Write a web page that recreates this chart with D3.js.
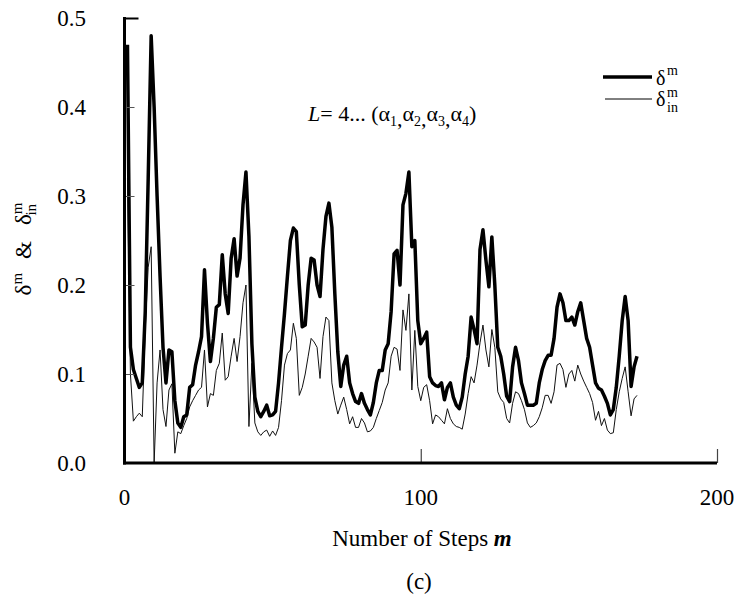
<!DOCTYPE html>
<html lang="en">
<head>
<meta charset="UTF-8">
<title>delta m</title>
<script src="https://cdn.jsdelivr.net/npm/d3@7"></script>
<style>
  body { margin: 0; background: #fff; }
  text { font-family: "Liberation Serif", "Times New Roman", Times, serif; fill: #000; }
</style>
</head>
<body>
<div id="app"></div>
<script>
    // step m starts at 1
    var firstStep = 1;
    var deltaM = [0.47, 0.13, 0.105, 0.095, 0.085, 0.09, 0.17, 0.32, 0.48, 0.40,
        0.30, 0.21, 0.13, 0.09, 0.127, 0.125, 0.07, 0.045, 0.04, 0.052,
        0.054, 0.085, 0.088, 0.11, 0.125, 0.142, 0.217, 0.157, 0.114, 0.14,
        0.175, 0.178, 0.234, 0.19, 0.168, 0.23, 0.252, 0.21, 0.23, 0.29,
        0.327, 0.255, 0.134, 0.074, 0.058, 0.052, 0.058, 0.065, 0.053, 0.054,
        0.058, 0.09, 0.13, 0.168, 0.21, 0.25, 0.264, 0.26, 0.2, 0.153,
        0.155, 0.2, 0.23, 0.228, 0.2, 0.187, 0.24, 0.277, 0.292, 0.265,
        0.19, 0.125, 0.086, 0.11, 0.12, 0.09, 0.078, 0.069, 0.067, 0.078,
        0.067, 0.06, 0.054, 0.068, 0.09, 0.104, 0.104, 0.127, 0.134, 0.17,
        0.235, 0.239, 0.2, 0.29, 0.303, 0.327, 0.243, 0.25, 0.16, 0.134,
        0.14, 0.147, 0.097, 0.09, 0.087, 0.086, 0.09, 0.071, 0.085, 0.09,
        0.074, 0.065, 0.061, 0.074, 0.1, 0.12, 0.164, 0.15, 0.134, 0.24,
        0.262, 0.228, 0.198, 0.254, 0.2, 0.13, 0.12, 0.1, 0.075, 0.069,
        0.108, 0.13, 0.115, 0.09, 0.078, 0.065, 0.065, 0.065, 0.067, 0.09,
        0.105, 0.115, 0.121, 0.121, 0.14, 0.175, 0.19, 0.18, 0.16, 0.16,
        0.164, 0.155, 0.17, 0.18, 0.16, 0.14, 0.13, 0.11, 0.09, 0.084,
        0.082, 0.075, 0.067, 0.054, 0.06, 0.085, 0.12, 0.16, 0.187, 0.16,
        0.086, 0.108, 0.12];
    var deltaIn = [0.32, 0.1, 0.047, 0.052, 0.056, 0.052, 0.15, 0.22, 0.243, 0.0,
        0.09, 0.127, 0.06, 0.041, 0.082, 0.089, 0.011, 0.035, 0.033, 0.042,
        0.05, 0.063, 0.07, 0.076, 0.082, 0.085, 0.127, 0.063, 0.078, 0.076,
        0.104, 0.112, 0.146, 0.093, 0.097, 0.12, 0.14, 0.114, 0.142, 0.18,
        0.2, 0.041, 0.112, 0.045, 0.035, 0.031, 0.035, 0.037, 0.03, 0.036,
        0.031, 0.04, 0.07, 0.11, 0.123, 0.127, 0.157, 0.14, 0.076, 0.085,
        0.1, 0.12, 0.14, 0.136, 0.13, 0.095, 0.142, 0.164, 0.16, 0.09,
        0.07, 0.055, 0.065, 0.074, 0.06, 0.044, 0.052, 0.04, 0.04, 0.05,
        0.045, 0.035, 0.036, 0.04, 0.05, 0.059, 0.068, 0.082, 0.09, 0.12,
        0.13, 0.128, 0.104, 0.172, 0.149, 0.19, 0.082, 0.149, 0.086, 0.07,
        0.085, 0.088, 0.07, 0.044, 0.054, 0.052, 0.048, 0.044, 0.061, 0.05,
        0.044, 0.041, 0.04, 0.038, 0.055, 0.078, 0.097, 0.09, 0.11, 0.135,
        0.155, 0.127, 0.108, 0.15, 0.13, 0.08, 0.072, 0.068, 0.05, 0.045,
        0.067, 0.08, 0.078, 0.07, 0.06, 0.045, 0.04, 0.042, 0.045, 0.052,
        0.062, 0.076, 0.076, 0.067, 0.08, 0.11, 0.112, 0.105, 0.085, 0.1,
        0.104, 0.092, 0.11, 0.1, 0.092, 0.085, 0.078, 0.068, 0.048, 0.058,
        0.042, 0.05, 0.037, 0.033, 0.034, 0.06, 0.08, 0.095, 0.108, 0.08,
        0.053, 0.072, 0.076];
    var xTicks = [0, 100, 200];
    var yTicks = [0.0, 0.1, 0.2, 0.3, 0.4, 0.5];

    var width = 737;
    var height = 598;
    var margin = { left: 124.5, top: 18, right: 20, bottom: 135 };

    var svg = d3.select("#app")
        .append("svg")
        .attr("width", width)
        .attr("height", height);

    var x = d3.scaleLinear().domain([0, 200]).range([margin.left, 717]);
    var y = d3.scaleLinear().domain([0, 0.5]).range([height - margin.bottom, margin.top]);

    // data lines
    var line = d3.line()
        .x(function (d, i) { return x(i + firstStep); })
        .y(function (d) { return y(d); });

    svg.append("path").datum(deltaIn)
        .attr("d", line)
        .attr("fill", "none")
        .attr("stroke", "#111")
        .attr("stroke-width", 1);

    svg.append("path").datum(deltaM)
        .attr("d", line)
        .attr("fill", "none")
        .attr("stroke", "#000")
        .attr("stroke-width", 3.5)
        .attr("stroke-linejoin", "round");

    // y axis: ticks inside
    var yAxis = d3.axisRight(y).tickValues(yTicks).tickSize(10).tickFormat("");
    var gy = svg.append("g").attr("transform", "translate(" + x(0) + ",0)").call(yAxis);
    gy.select(".domain").remove();
    gy.selectAll(".tick line").attr("stroke", "#555").attr("stroke-width", 1);
    gy.selectAll(".tick").filter(function (d) { return d === 0.5; }).select("line")
        .attr("x2", 14).attr("stroke", "#000").attr("stroke-width", 2);

    svg.selectAll(".ylab").data(yTicks).enter().append("text")
        .attr("class", "ylab")
        .attr("x", 86)
        .attr("y", function (d) { return y(d) + 8; })
        .attr("text-anchor", "end")
        .style("font-size", "23px")
        .text(function (d) { return d.toFixed(1); });

    // x axis: ticks inside (upward)
    var xAxis = d3.axisTop(x).tickValues(xTicks).tickSize(14).tickFormat("");
    var gx = svg.append("g").attr("transform", "translate(0," + y(0) + ")").call(xAxis);
    gx.select(".domain").remove();
    gx.selectAll(".tick line").attr("stroke", "#444").attr("stroke-width", 1.2);

    svg.selectAll(".xlab").data(xTicks).enter().append("text")
        .attr("class", "xlab")
        .attr("x", function (d) { return x(d); })
        .attr("y", 505)
        .attr("text-anchor", "middle")
        .style("font-size", "23px")
        .text(function (d) { return d; });

    // axis lines
    svg.append("line")
        .attr("x1", x(0)).attr("x2", x(0))
        .attr("y1", y(0.5) - 1).attr("y2", y(0) + 1.5)
        .attr("stroke", "#000").attr("stroke-width", 3);
    svg.append("line")
        .attr("x1", x(0) - 1.5).attr("x2", x(200))
        .attr("y1", y(0)).attr("y2", y(0))
        .attr("stroke", "#000").attr("stroke-width", 3);

    // axis titles
    var xt = svg.append("text")
        .attr("x", 422).attr("y", 546)
        .attr("text-anchor", "middle")
        .style("font-size", "23px");
    xt.append("tspan").text("Number of Steps ");
    xt.append("tspan").style("font-style", "italic").style("font-weight", "bold").text("m");

    svg.append("text")
        .attr("x", 419).attr("y", 589)
        .attr("text-anchor", "middle")
        .style("font-size", "23px")
        .text("(c)");

    var yt = svg.append("text")
        .attr("transform", "translate(31,249) rotate(-90)")
        .attr("text-anchor", "middle")
        .style("font-size", "23px");
    yt.append("tspan").text("δ");
    yt.append("tspan").attr("dy", -9).style("font-size", "15px").text("m");
    yt.append("tspan").attr("dx", 14).attr("dy", 9).text("&");
    yt.append("tspan").attr("dx", 16).text("δ");
    yt.append("tspan").attr("dy", -9).style("font-size", "15px").text("m");
    yt.append("tspan").attr("dx", -13).attr("dy", 14).style("font-size", "15px").text("in");

    // annotation
    var ann = svg.append("text")
        .attr("x", 308).attr("y", 121)
        .style("font-size", "22px");
    ann.append("tspan").style("font-style", "italic").text("L");
    ann.append("tspan").text("= 4... (");
    var alphas = ["1", "2", "3", "4"];
    alphas.forEach(function (s, i) {
        ann.append("tspan").attr("dy", i === 0 ? 0 : -5).text("α");
        ann.append("tspan").attr("dy", 5).style("font-size", "14px").text(s);
        ann.append("tspan").text(i < 3 ? "," : "");
    });
    ann.append("tspan").attr("dy", -5).text(")");

    // legend
    var legend = svg.append("g");
    legend.append("line")
        .attr("x1", 603).attr("x2", 652).attr("y1", 77).attr("y2", 77)
        .attr("stroke", "#000").attr("stroke-width", 3.5);
    legend.append("line")
        .attr("x1", 605).attr("x2", 652).attr("y1", 99).attr("y2", 99)
        .attr("stroke", "#000").attr("stroke-width", 1);
    // each glyph group as its own text so the boxes stay apart
    legend.append("text").attr("x", 656).attr("y", 85).style("font-size", "20px").text("δ");
    legend.append("text").attr("x", 667).attr("y", 75).style("font-size", "14px").text("m");
    legend.append("text").attr("x", 656).attr("y", 106).style("font-size", "20px").text("δ");
    legend.append("text").attr("x", 667).attr("y", 97).style("font-size", "14px").text("m");
    legend.append("text").attr("x", 667).attr("y", 112).style("font-size", "14px").text("in");
</script>
</body>
</html>
